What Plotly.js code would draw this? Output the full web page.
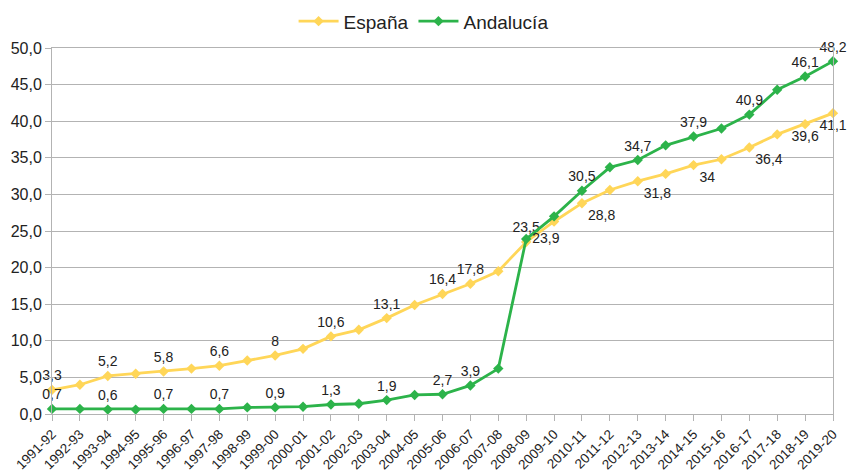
<!DOCTYPE html>
<html>
<head>
<meta charset="utf-8">
<script src="https://cdn.plot.ly/plotly-3.0.1.min.js"></script>
<style>
  html, body { margin: 0; padding: 0; background: #fff; }
  #grafico { width: 854px; height: 473px; }
</style>
</head>
<body>
<div id="grafico"></div>
<script>
// cursos escolares
const cursos = ['1991-92', '1992-93', '1993-94', '1994-95', '1995-96', '1996-97', '1997-98',
  '1998-99', '1999-00', '2000-01', '2001-02', '2002-03', '2003-04', '2004-05', '2005-06',
  '2006-07', '2007-08', '2008-09', '2009-10', '2010-11', '2011-12', '2012-13', '2013-14',
  '2014-15', '2015-16', '2016-17', '2017-18', '2018-19', '2019-20'];

const espana = [3.3, 4.0, 5.2, 5.5, 5.8, 6.2, 6.6, 7.3, 8, 8.9, 10.6, 11.5, 13.1, 14.9, 16.4,
  17.8, 19.5, 23.5, 26.3, 28.8, 30.6, 31.8, 32.8, 34, 34.8, 36.4, 38.2, 39.6, 41.1];

const andalucia = [0.7, 0.7, 0.6, 0.6, 0.7, 0.7, 0.7, 0.9, 0.9, 1.0, 1.3, 1.4, 1.9, 2.6, 2.7,
  3.9, 6.2, 23.9, 27.0, 30.5, 33.7, 34.7, 36.7, 37.9, 39.0, 40.9, 44.3, 46.1, 48.2];

// puntos con etiqueta
const etiqEspana = [0, 2, 4, 6, 8, 10, 12, 14, 15, 17, 19, 21, 23, 25, 27, 28];
const etiqAndalucia = [0, 2, 4, 6, 8, 10, 12, 14, 15, 17, 19, 21, 23, 25, 27, 28];

const fmt = v => String(v).replace('.', ',');

function textos(valores, idx) {
  return valores.map((v, i) => idx.includes(i) ? fmt(v) : '');
}

const posEspana = espana.map((v, i) => i >= 27 ? 'bottom center' : (i >= 19 ? 'bottom right' : 'top center'));
const posAndalucia = andalucia.map((v, i) => i === 17 ? 'middle right' : 'top center');

const trazas = [
  {
    x: cursos, y: espana, name: 'España',
    mode: 'lines+markers+text',
    text: textos(espana, etiqEspana),
    textposition: posEspana,
    textfont: { size: 14, color: '#222' },
    line: { color: '#FFD658', width: 2.8 },
    marker: { color: '#FFD658', symbol: 'diamond', size: 8 },
    cliponaxis: false
  },
  {
    x: cursos, y: andalucia, name: 'Andalucía',
    mode: 'lines+markers+text',
    text: textos(andalucia, etiqAndalucia),
    textposition: posAndalucia,
    textfont: { size: 14, color: '#222' },
    line: { color: '#2CB34A', width: 2.8 },
    marker: { color: '#2CB34A', symbol: 'diamond', size: 8 },
    cliponaxis: false
  }
];

Plotly.newPlot('grafico', trazas, {
  width: 854, height: 473,
  margin: { l: 52, r: 21, t: 48, b: 59 },
  paper_bgcolor: '#fff', plot_bgcolor: '#fff',
  font: { family: 'Liberation Sans, Arial, sans-serif', color: '#222' },
  separators: ',.',
  showlegend: true,
  legend: {
    orientation: 'h', x: 0.496, xref: 'container', xanchor: 'center',
    y: 0.955, yref: 'container', yanchor: 'middle',
    font: { size: 19 }, itemwidth: 40
  },
  xaxis: {
    type: 'category', range: [0, 28], automargin: false,
    tickangle: -45, tickfont: { size: 13.5 },
    showgrid: false, showline: true, linecolor: '#b3b3b3', mirror: true,
    ticks: 'outside', ticklen: 6, tickcolor: '#b3b3b3'
  },
  yaxis: {
    range: [0, 50], dtick: 5, tickformat: '.1f', automargin: false,
    tickfont: { size: 16 },
    showgrid: true, gridcolor: '#b3b3b3', gridwidth: 1,
    showline: true, linecolor: '#b3b3b3', mirror: true,
    ticks: 'outside', ticklen: 6, tickcolor: '#b3b3b3',
    zeroline: false
  }
}, { displayModeBar: false });
</script>
</body>
</html>
